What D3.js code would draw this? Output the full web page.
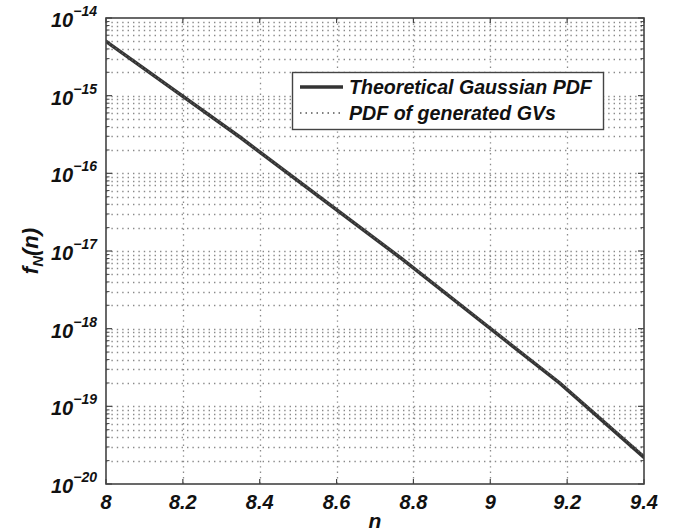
<!DOCTYPE html>
<html><head><meta charset="utf-8">
<script src="https://cdn.jsdelivr.net/npm/d3@7"></script>
<style>
html,body{margin:0;padding:0;background:#fff;}
svg{display:block;font-family:"Liberation Sans",Arial,sans-serif;font-weight:bold;font-style:italic;}
</style></head><body>
<svg id="c" width="684" height="531"></svg>
<script>
// ---- data ----
const nPts      = [7.94, 8.35, 8.766, 9.18, 9.59];
const theoVals  = [8.15e-15, 2.89e-16, 8.2e-18, 2.0e-19, 3.3e-21];
const genVals   = [8.15e-15, 2.9e-16, 8.3e-18, 2.05e-19, 3.5e-21];
const xTicks    = [8, 8.2, 8.4, 8.6, 8.8, 9, 9.2, 9.4];
const xTickLabels = ["8","8.2","8.4","8.6","8.8","9","9.2","9.4"];
const yExps     = [-14,-15,-16,-17,-18,-19,-20];
const legendLabels = ["Theoretical Gaussian PDF","PDF of generated GVs"];

const svg = d3.select("#c");
const L=106, R=644, T=18, B=484;
const x = d3.scaleLinear().domain([8,9.4]).range([L,R]);
const y = d3.scaleLog().domain([1e-20,1e-14]).range([B,T]);

// minor log positions
const minorVals=[];
for(let e=-20;e<-14;e++){for(let m=2;m<=9;m++){minorVals.push(m*Math.pow(10,e));}}
const majorVals=yExps.map(e=>Math.pow(10,e));

const grid = svg.append("g").attr("stroke","#8a8a8a").attr("stroke-width",1.3).attr("stroke-dasharray","1.4,4");
grid.selectAll(".hg").data(minorVals.concat(majorVals.slice(1,-1))).enter().append("line")
  .attr("x1",L).attr("x2",R).attr("y1",d=>Math.round(y(d))+0.5).attr("y2",d=>Math.round(y(d))+0.5);
grid.selectAll(".vg").data(xTicks.slice(1,-1)).enter().append("line")
  .attr("y1",T).attr("y2",B).attr("x1",d=>Math.round(x(d))+0.5).attr("x2",d=>Math.round(x(d))+0.5);

// clip
svg.append("clipPath").attr("id","clp").append("rect").attr("x",L).attr("y",T).attr("width",R-L).attr("height",B-T);

const line = d3.line().x(d=>x(d[0])).y(d=>y(d[1]));
const plot = svg.append("g").attr("clip-path","url(#clp)");
plot.append("path").datum(nPts.map((n,i)=>[n,theoVals[i]])).attr("d",line)
  .attr("fill","none").attr("stroke","#333").attr("stroke-width",3.6);
plot.append("path").datum(nPts.map((n,i)=>[n,genVals[i]])).attr("d",line)
  .attr("fill","none").attr("stroke","#555").attr("stroke-width",1.6).attr("stroke-dasharray","1.5,2.5");

// frame + ticks
const ax = svg.append("g").attr("stroke","#444").attr("stroke-width",1.6);
ax.append("rect").attr("x",L).attr("y",T).attr("width",R-L).attr("height",B-T).attr("fill","none");
xTicks.forEach(t=>{
  const px=x(t);
  ax.append("line").attr("x1",px).attr("x2",px).attr("y1",B).attr("y2",B-5).attr("stroke-width",1.2);
  ax.append("line").attr("x1",px).attr("x2",px).attr("y1",T).attr("y2",T+5).attr("stroke-width",1.2);
});
majorVals.forEach(v=>{
  const py=y(v);
  ax.append("line").attr("x1",L).attr("x2",L+6).attr("y1",py).attr("y2",py).attr("stroke-width",1.2);
  ax.append("line").attr("x1",R).attr("x2",R-6).attr("y1",py).attr("y2",py).attr("stroke-width",1.2);
});
minorVals.forEach(v=>{
  const py=y(v);
  ax.append("line").attr("x1",L).attr("x2",L+3.5).attr("y1",py).attr("y2",py).attr("stroke-width",1);
  ax.append("line").attr("x1",R).attr("x2",R-3.5).attr("y1",py).attr("y2",py).attr("stroke-width",1);
});

// x tick labels
svg.append("g").selectAll("text").data(xTicks).enter().append("text")
  .attr("x",d=>x(d)).attr("y",509).attr("text-anchor","middle").attr("font-size",20).attr("fill","#111")
  .text((d,i)=>xTickLabels[i]);

// y tick labels
const yl = svg.append("g").selectAll("text").data(yExps).enter().append("text")
  .attr("x",97).attr("y",d=>y(Math.pow(10,d))+9).attr("text-anchor","end").attr("fill","#111").attr("font-size",20);
yl.append("tspan").text("10");
yl.append("tspan").attr("font-size",14).attr("dy",-11).text(d=>"\u2212"+Math.abs(d));

// axis labels
svg.append("text").attr("x",375).attr("y",528).attr("text-anchor","middle").attr("font-size",21).attr("fill","#111").text("n");
const yt = svg.append("text").attr("transform","translate(38,251) rotate(-90)").attr("text-anchor","middle").attr("font-size",22).attr("fill","#111");
yt.append("tspan").text("f");
yt.append("tspan").attr("font-size",15).attr("dy",5).text("N");
yt.append("tspan").attr("dy",-5).text("(n)");

// legend
const lg = svg.append("g");
lg.append("rect").attr("x",292.5).attr("y",72.5).attr("width",311).attr("height",57).attr("fill","#fff").attr("stroke","#444").attr("stroke-width",1.4);
lg.append("line").attr("x1",300).attr("x2",343).attr("y1",87).attr("y2",87).attr("stroke","#333").attr("stroke-width",3.6);
lg.append("line").attr("x1",300).attr("x2",343).attr("y1",113).attr("y2",113).attr("stroke","#555").attr("stroke-width",1.6).attr("stroke-dasharray","1.5,4");
lg.selectAll("text.l").data(legendLabels).enter().append("text")
  .attr("x",349).attr("y",(d,i)=>94+i*26).attr("font-size",19.6).attr("fill","#111").text(d=>d);
</script>
</body></html>
